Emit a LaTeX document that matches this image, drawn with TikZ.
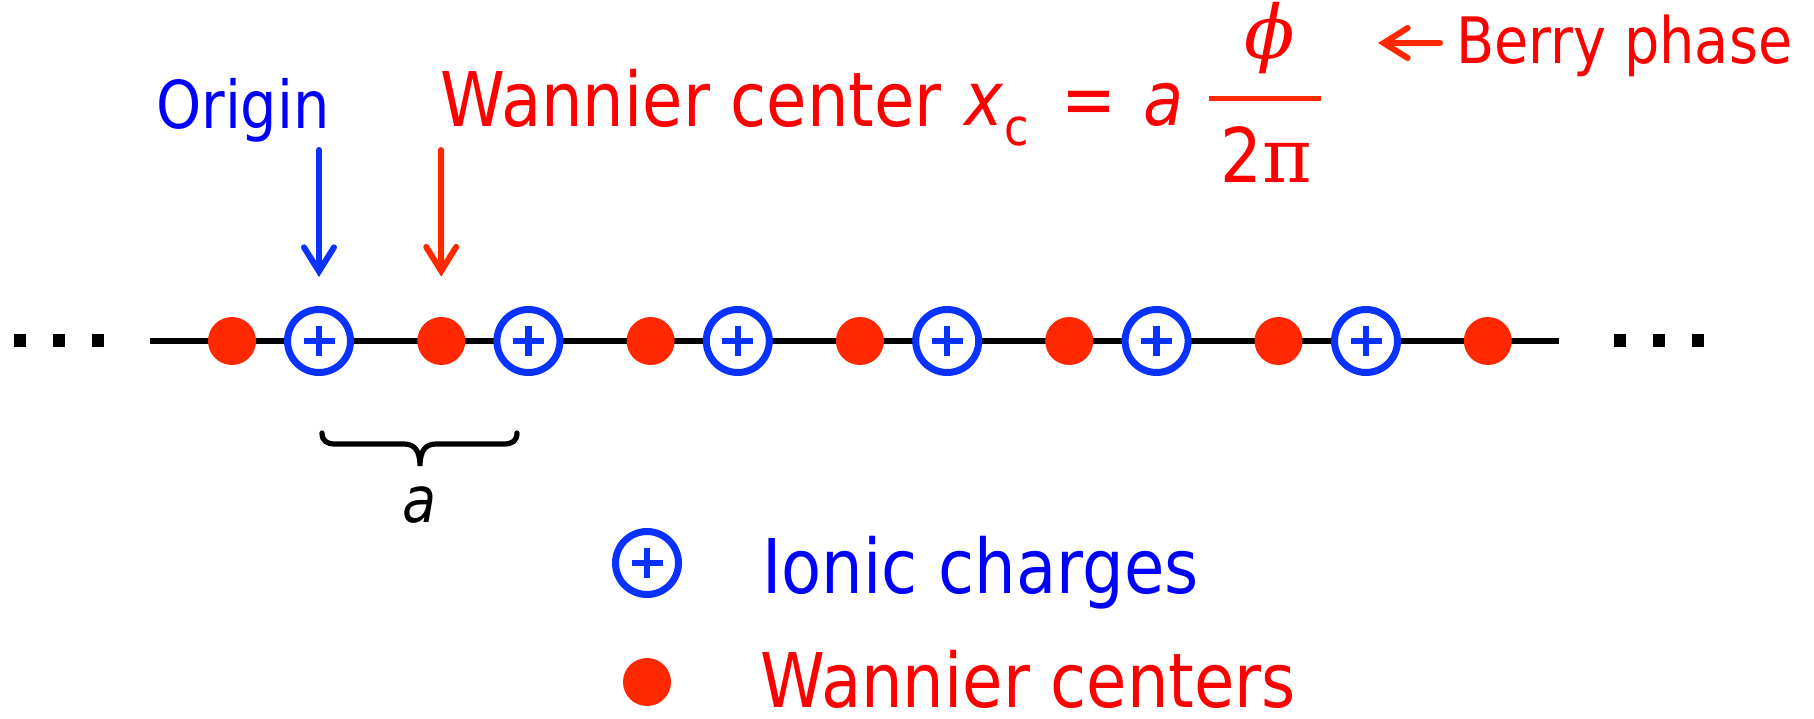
\documentclass[tikz,border=0pt]{standalone}
\usepackage{fontspec}
\setmainfont[FakeStretch=0.87]{DejaVu Sans}
\newfontfamily\greekserif{DejaVu Serif}
\usepackage{xcolor}
\definecolor{ionblue}{RGB}{10,50,255}
\definecolor{labelblue}{RGB}{0,0,255}
\definecolor{wcred}{RGB}{255,40,0}
\definecolor{labelred}{RGB}{255,0,0}
\usetikzlibrary{positioning,calc,arrows.meta}

\begin{document}
\begin{tikzpicture}[x=0.5pt,y=-0.5pt,
    ion/.style={circle, draw=ionblue, fill=white, line width=3.5pt,
      minimum size=31.5pt, inner sep=0pt,
      path picture={\draw[ionblue, line width=3.2pt]
        ([xshift=-7.75pt]path picture bounding box.center)
          -- ([xshift=7.75pt]path picture bounding box.center)
        ([yshift=-7.5pt]path picture bounding box.center)
          -- ([yshift=7.5pt]path picture bounding box.center);}},
    wc/.style={circle, fill=wcred, minimum size=24pt, inner sep=0pt},
    dotdot/.style={rectangle, fill=black, minimum width=6pt,
      minimum height=6.5pt, inner sep=0pt},
    bigtext/.style={inner sep=0pt, font=\fontsize{37.7pt}{44pt}\selectfont},
    barb/.style={line width=3pt, line cap=round,
      -{Straight Barb[length=12pt,width=15pt,line cap=round,line join=miter]}},
    ionarrow/.style={barb, ionblue},
    wcarrow/.style={barb, wcred},
    spanbrace/.style={line width=2.6pt, line cap=round}]
  % Fond blanc aux dimensions de la figure
  \fill[white] (0,0) rectangle (1814,718);
  \useasboundingbox (0,0) rectangle (1814,718);

  % Chaine : trait noir, centres de Wannier et charges ioniques
  \coordinate (chainL) at (150,341);
  \coordinate (chainR) at (1559,341);
  \draw[line width=3pt] (chainL) -- (chainR);
  \foreach \k in {0,...,6}
    \node[wc] (wc\k) at ({232+209.3*\k},341) {};
  \foreach \k in {0,...,5}
    \node[ion] (ion\k) at ({319+209.4*\k},341) {};
  % Points de suspension aux deux bouts
  \foreach \xx [count=\i] in {20,58.5,97.5}
    \node[dotdot] (ldot\i) at (\xx,340.5) {};
  \foreach \xx [count=\i] in {1620,1659,1698}
    \node[dotdot] (rdot\i) at (\xx,340.5) {};

  % Origine et centre de Wannier, avec leurs fleches
  \node[anchor=base, inner sep=0pt, text=labelblue,
        font=\fontsize{33pt}{40pt}\selectfont] (origin) at (243,128) {Origin};
  \coordinate (otail) at (319,150);
  \draw[ionarrow, shorten >=14.5pt] (otail) -- (ion0.north);
  \coordinate (wtail) at (441,150);
  \draw[wcarrow, shorten >=20pt] (wtail) -- (wc1.north);

  % Formule x_c = a phi / 2 pi
  \node[anchor=base west, bigtext, text=labelred] (wtitle) at (440,126)
    {Wannier center};
  \node[anchor=base west, bigtext, text=labelred] (xvar) at (964,125)
    {\textit{x}};
  \node[anchor=base west, inner sep=0pt, text=labelred,
        font=\fontsize{25.6pt}{30pt}\selectfont] (csub) at (1004,145) {c};
  \node[anchor=base, bigtext, text=labelred] (eqsign) at (1089,125) {=};
  \node[anchor=base, bigtext, text=labelred] (acoef) at (1164,125)
    {\textit{a}};
  \node[anchor=base, inner sep=0pt, text=labelred,
        font=\fontsize{37pt}{40pt}\selectfont] (phinum) at (1270,58)
    {\greekserif\itshape ϕ};
  \draw[wcred, line width=2.5pt] (1209,98) -- (1321,98);
  \node[anchor=base, bigtext, text=labelred] (twopi) at (1266,182)
    {2{\greekserif π}};

  % Phase de Berry
  \node[anchor=base west, inner sep=0pt, text=labelred,
        font=\fontsize{32pt}{36pt}\selectfont] (berry) at (1456,63)
    {Berry phase};
  \coordinate (bptip) at (1378,43);
  \draw[wcarrow] ($(berry.base west |- bptip)+(-8pt,0)$) -- (bptip);

  % Accolade du pas de reseau a
  \draw[spanbrace] (322,433) .. controls (322,441) and (327,444) .. (335,444)
    -- (404,444) .. controls (414,444) and (420,450) .. (420,466)
    .. controls (420,450) and (426,444) .. (436,444)
    -- (504,444) .. controls (512,444) and (517,441) .. (517,433);
  \node[anchor=base, inner sep=0pt, font=\fontsize{32pt}{36pt}\selectfont]
    (alabel) at (420,522) {\textit{a}};

  % Legende
  \node[ion] (legion) at (647,563) {};
  \node[wc] (legwc) at (647,682) {};
  \node[anchor=base west, bigtext, text=labelblue] (ionlabel) at (762,593)
    {Ionic charges};
  \node[anchor=base west, bigtext, text=labelred, text depth=0pt]
    (wclabel) at (760,707) {Wannier centers};
\end{tikzpicture}
\end{document}
